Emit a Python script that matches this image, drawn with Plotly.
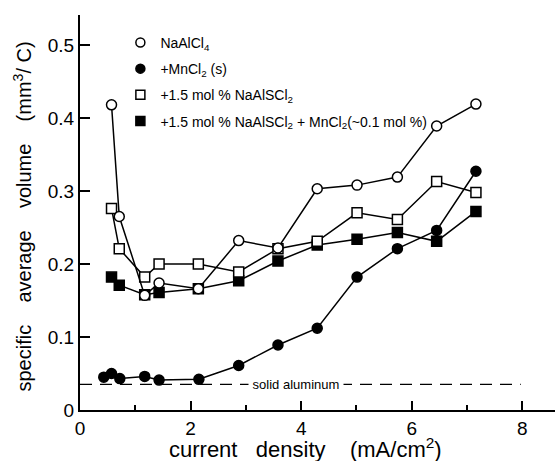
import plotly.graph_objects as go

# ---- data ----
x_naalcl4 = [0.57, 0.71, 1.17, 1.43, 2.14, 2.87, 3.58, 4.29, 5.01, 5.74, 6.45, 7.16]
y_naalcl4 = [0.418, 0.265, 0.157, 0.174, 0.166, 0.232, 0.222, 0.303, 0.308, 0.319, 0.389, 0.419]

x_mncl2 = [0.43, 0.57, 0.72, 1.17, 1.43, 2.15, 2.87, 3.58, 4.29, 5.01, 5.74, 6.45, 7.16]
y_mncl2 = [0.045, 0.050, 0.043, 0.046, 0.041, 0.042, 0.061, 0.089, 0.112, 0.182, 0.221, 0.246, 0.327]

x_alscl = [0.57, 0.71, 1.17, 1.43, 2.14, 2.87, 3.58, 4.29, 5.01, 5.74, 6.45, 7.16]
y_alscl = [0.276, 0.221, 0.182, 0.200, 0.200, 0.189, 0.221, 0.231, 0.270, 0.261, 0.313, 0.298]

x_alscl_mn = [0.57, 0.71, 1.17, 1.43, 2.14, 2.87, 3.58, 4.29, 5.01, 5.74, 6.45, 7.16]
y_alscl_mn = [0.182, 0.171, 0.158, 0.161, 0.166, 0.177, 0.204, 0.226, 0.234, 0.243, 0.231, 0.272]

solid_aluminum = 0.035
solid_x = [0.0, 7.97]

names = [
    "NaAlCl<sub>4</sub>",
    "+MnCl<sub>2</sub> (s)",
    "+1.5 mol % NaAlSCl<sub>2</sub>",
    "+1.5 mol % NaAlSCl<sub>2</sub> + MnCl<sub>2</sub>(~0.1 mol %)",
]

x_ticks = [0, 2, 4, 6, 8]
y_ticks = [0, 0.1, 0.2, 0.3, 0.4, 0.5]
y_ticklabels = ["0", "0.1", "0.2", "0.3", "0.4", "0.5"]

FONT = "Liberation Sans"
NB = "\u00a0"
series = [
    (x_naalcl4, y_naalcl4, "circle", "white"),
    (x_mncl2, y_mncl2, "circle", "black"),
    (x_alscl, y_alscl, "square", "white"),
    (x_alscl_mn, y_alscl_mn, "square", "black"),
]

fig = go.Figure()

# dashed solid aluminum reference line
fig.add_trace(go.Scatter(x=solid_x, y=[solid_aluminum, solid_aluminum], mode="lines",
                         line=dict(color="black", width=1.3, dash="12px,8px"),
                         showlegend=False, hoverinfo="skip"))

# draw order: filled first, open (white-filled) on top
order = [3, 1, 2, 0]
for i in order:
    xs, ys, sym, fill = series[i]
    fig.add_trace(go.Scatter(
        x=xs, y=ys, mode="lines+markers",
        line=dict(color="black", width=1.5),
        marker=dict(symbol=sym, size=10, color=fill,
                    line=dict(color="black", width=1.5)),
        showlegend=False))

for i, (xs, ys, sym, fill) in enumerate(series):
    fig.add_trace(go.Scatter(
        x=[None], y=[None], mode="markers", name=names[i],
        legendgroup=f"g{i}", legendrank=i + 1,
        marker=dict(symbol=sym, size=9, color=fill, line=dict(color="black", width=1.5))))

fig.add_annotation(x=3.9, y=solid_aluminum, text=NB + "solid aluminum" + NB, showarrow=False,
                   bgcolor="white", font=dict(family=FONT, size=13, color="black"),
                   borderpad=0)

ytitle = ("specific" + NB * 4 + "average" + NB * 4 + "volume" + NB * 4 +
          "(mm<sup>3</sup>/ C)")
xtitle = "current" + NB * 3 + "density" + NB * 4 + "(mA/cm<sup>2</sup>)"

# axis titles as annotations for exact placement
fig.add_annotation(xref="paper", yref="paper", x=0.474, y=-0.095, yanchor="middle",
                   text=xtitle, showarrow=False, font=dict(family=FONT, size=22))
fig.add_annotation(xref="paper", yref="paper", x=-0.122, y=0.49, xanchor="center",
                   yanchor="middle", textangle=-90, text=ytitle, showarrow=False,
                   font=dict(family=FONT, size=20))

fig.update_layout(
    width=555, height=461,
    margin=dict(l=80, r=0, t=15, b=51),
    paper_bgcolor="white", plot_bgcolor="white",
    font=dict(family=FONT, color="black"),
    showlegend=True,
    legend=dict(x=0.085, y=0.97, xanchor="left", yanchor="top",
                bgcolor="rgba(0,0,0,0)", font=dict(family=FONT, size=14),
                traceorder="grouped", tracegroupgap=5, itemwidth=30),
    xaxis=dict(range=[0, 8.59], showline=True, linecolor="black", linewidth=2,
               showgrid=False, zeroline=False, ticks="inside", ticklen=9, tickwidth=2,
               tickcolor="black", tickvals=x_ticks, ticktext=[str(v) for v in x_ticks],
               tickfont=dict(family=FONT, size=19),
               minor=dict(ticks="inside", ticklen=5, tickwidth=1.5, dtick=1, tick0=0,
                          tickcolor="black", showgrid=False)),
    yaxis=dict(range=[0, 0.541], showline=True, linecolor="black", linewidth=2,
               showgrid=False, zeroline=False, ticks="inside", ticklen=10, tickwidth=2,
               tickcolor="black", tickvals=y_ticks, ticktext=y_ticklabels,
               tickfont=dict(family=FONT, size=19)),
)

fig.write_html("out.html")
